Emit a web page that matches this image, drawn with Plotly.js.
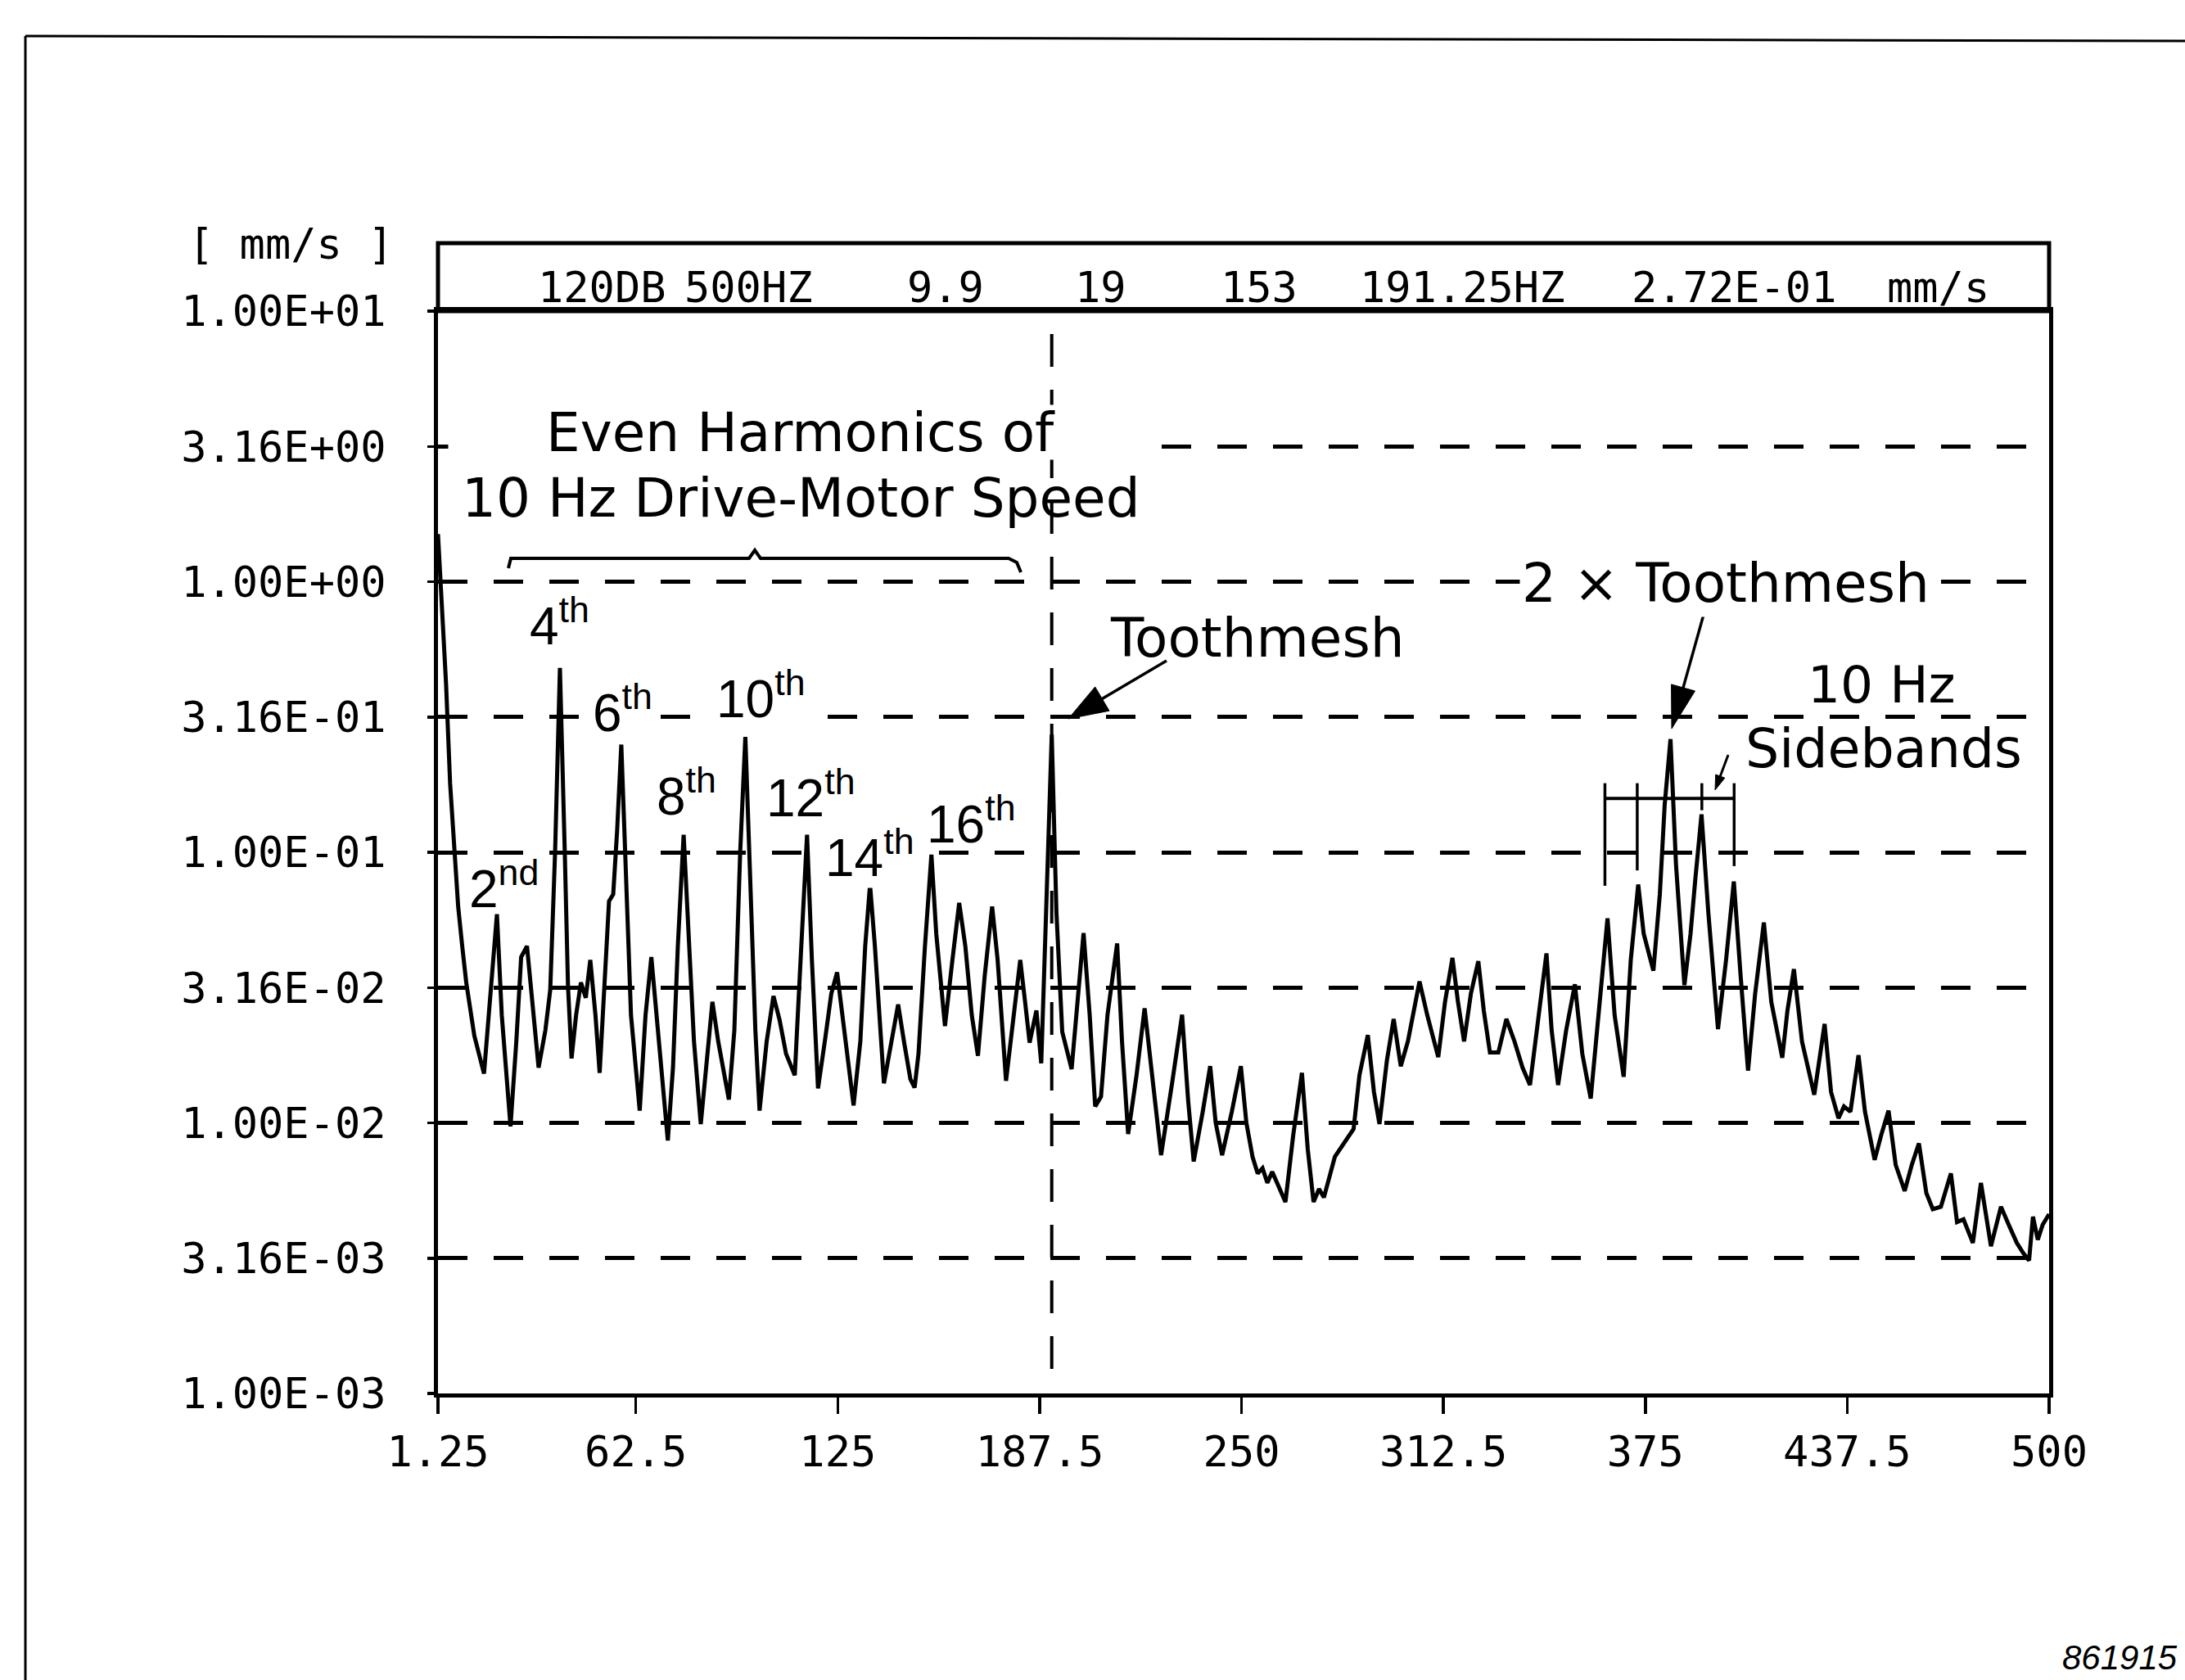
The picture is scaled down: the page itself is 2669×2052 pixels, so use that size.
<!DOCTYPE html>
<html><head><meta charset="utf-8">
<script src="https://cdn.plot.ly/plotly-3.0.1.min.js"></script>
<style>html,body{margin:0;padding:0;background:#fff;}#chart{width:2669px;height:2052px;}</style>
</head><body><div id="chart"></div>
<script>
// ---- data ----
const freqHz = [1.25,2.5,3.75,5,6.25,7.5,8.75,10,12.5,15.5,17.5,19.5,21,23.7,25.5,27,28.8,30.5,32.4,34.5,36,37.5,39,40.5,41.5,42.6,44,45.5,47,48.4,50,51.3,52.5,54.2,55.5,56.7,58,59.5,61,63.7,65.5,67.3,69,72.4,74,75.5,77.3,79,80.5,82.6,84.5,86.2,88,91.3,93,94.8,96.4,98,99.5,100.8,103,105.1,107,109,111.7,113.5,115.5,117,118.9,121,123,124.8,126.5,129.9,132,133.5,135,136.5,139.3,141.5,143.7,145.5,147.5,148.8,150,152,154,155.5,158.2,160.5,162.6,164.5,166.5,168.4,170.5,172.8,174.5,177.1,179.5,181.5,183,184.4,186.5,188,189.5,191.25,192.7,194.5,197.4,199.5,201.1,203,204.7,206.5,208.5,211.5,213,214.9,217.5,220,222.5,225.1,228.5,231.6,233.5,235.2,238,240.3,242,244,247,249.8,251.5,253.4,255,256.5,258,259.5,261,263.6,266,268.7,270.5,272.3,274,275.5,278.9,282,284.7,286.5,289.1,291,292.7,295,297.1,299.3,301.5,305.1,307.5,310.9,313,315.3,317,318.9,321,323.3,325,326.9,329.5,332,334.5,337,339.3,342,344.4,346,348,350.5,353.2,355.5,358.1,360.5,363.3,365.5,368.3,370.5,372.8,374.5,377.5,379.5,381,382.8,384.5,387.1,389,390.5,392.4,394.5,397.5,400,402.4,404.5,406.8,409,411.7,414,417.4,419,421,423.5,427.3,430.5,432.5,434.8,436.5,438.5,441,443,446,448,450.3,452.5,455.3,457.5,459.7,462,464,466.5,469.6,471.5,473.5,476.4,478.9,482,485.1,487.5,490,492,493.8,495,496.5,498,500];
const velocityMmS = [1.5,0.85,0.42,0.18,0.1,0.063,0.045,0.033,0.021,0.0152,0.03,0.059,0.025,0.0097,0.02,0.041,0.045,0.027,0.016,0.022,0.031,0.1,0.48,0.1,0.032,0.0173,0.025,0.033,0.029,0.04,0.025,0.0153,0.03,0.066,0.07,0.12,0.25,0.08,0.025,0.0111,0.025,0.041,0.024,0.0086,0.016,0.045,0.116,0.048,0.02,0.0099,0.018,0.028,0.02,0.0122,0.022,0.1,0.267,0.08,0.022,0.0111,0.02,0.0294,0.024,0.018,0.015,0.04,0.116,0.04,0.0134,0.02,0.03,0.036,0.025,0.0116,0.02,0.045,0.076,0.045,0.014,0.02,0.0274,0.02,0.0145,0.0135,0.018,0.045,0.098,0.05,0.0228,0.04,0.065,0.045,0.025,0.0177,0.035,0.063,0.04,0.0143,0.025,0.04,0.028,0.0198,0.026,0.0166,0.06,0.272,0.06,0.0217,0.0158,0.03,0.0503,0.025,0.0115,0.0125,0.025,0.046,0.02,0.0091,0.015,0.0265,0.014,0.0076,0.014,0.0251,0.012,0.0072,0.011,0.0162,0.01,0.0076,0.011,0.0162,0.01,0.0075,0.0065,0.0068,0.006,0.0066,0.006,0.0051,0.009,0.0153,0.008,0.0051,0.0057,0.0053,0.0075,0.0085,0.0095,0.015,0.0211,0.013,0.0099,0.017,0.0242,0.0162,0.02,0.0333,0.025,0.0175,0.028,0.0407,0.028,0.02,0.03,0.0396,0.026,0.0182,0.0182,0.0242,0.02,0.016,0.0138,0.025,0.0423,0.022,0.0138,0.022,0.0325,0.018,0.0123,0.025,0.057,0.025,0.0148,0.04,0.076,0.05,0.0365,0.07,0.15,0.262,0.09,0.0323,0.05,0.08,0.138,0.06,0.0222,0.04,0.078,0.035,0.0156,0.03,0.055,0.028,0.0174,0.026,0.037,0.02,0.0127,0.0232,0.013,0.0104,0.0115,0.011,0.0178,0.011,0.0073,0.009,0.0111,0.007,0.0056,0.007,0.0084,0.0055,0.0048,0.0049,0.0065,0.0043,0.0044,0.0036,0.006,0.0035,0.0049,0.0042,0.0036,0.0033,0.0031,0.0045,0.0037,0.0042,0.0046];
const xTickVals = [1.25,62.5,125,187.5,250,312.5,375,437.5,500];
const xTickText = ["1.25","62.5","125","187.5","250","312.5","375","437.5","500"];
const yTickVals = [10,3.16,1,0.316,0.1,0.0316,0.01,0.00316,0.001];
const yTickText = ["1.00E+01","3.16E+00","1.00E+00","3.16E-01","1.00E-01","3.16E-02","1.00E-02","3.16E-03","1.00E-03"];
const headerFields = ["120DB","500HZ","9.9","19","153","191.25HZ","2.72E-01","mm/s"];
const yUnitLabel = "[ mm/s ]";
const cursorHz = 191.25;
const sidebandHz = [362.5,372.5,392.5,402.5];
const harmonicLabels = ["2<sup>nd</sup>","4<sup>th</sup>","6<sup>th</sup>","8<sup>th</sup>","10<sup>th</sup>","12<sup>th</sup>","14<sup>th</sup>","16<sup>th</sup>"];
const figureId = "861915";

// ---- layout geometry (pixels of the 2669x2052 page) ----
const W=2669,H=2052,L=535,R=2503,T=380,B=1702;
const px = X => (X-L)/(R-L);
const py = Y => (B-Y)/(B-T);
const pt = (X,Y) => px(X).toFixed(5)+','+py(Y).toFixed(5);

const mono = "DejaVu Sans Mono, Liberation Mono, monospace";
const sans = "DejaVu Sans, Liberation Sans, Arial, sans-serif";
const sans2 = "Liberation Sans, Arial, sans-serif";

const headerX = [655,834,1106,1311,1489,1659,1991,2303];
const harmonicPos = [[615,1081],[683,760],[760,866],[838,968],[929,849],[990,970],[1062,1043],[1186,1002]];
const harmonicMask = [false,false,true,false,true,false,true,false];

const annotations = [];
headerFields.forEach((t,i)=>annotations.push({xref:'paper',yref:'paper',x:px(headerX[i]),y:py(351),xanchor:'left',yanchor:'middle',text:t,showarrow:false,font:{family:mono,size:52,color:'#000'}}));
annotations.push({xref:'paper',yref:'paper',x:px(482),y:py(298),xanchor:'right',yanchor:'middle',text:yUnitLabel,showarrow:false,font:{family:mono,size:52,color:'#000'}});
annotations.push({xref:'paper',yref:'paper',x:px(978),y:py(528),xanchor:'center',yanchor:'middle',text:'Even Harmonics of',showarrow:false,width:860,height:66,bgcolor:'#fff',borderpad:0,font:{family:sans,size:66,color:'#000'}});
annotations.push({xref:'paper',yref:'paper',x:px(978),y:py(608),xanchor:'center',yanchor:'middle',text:'10 Hz Drive-Motor Speed',showarrow:false,height:76,font:{family:sans,size:66,color:'#000'}});
annotations.push({xref:'paper',yref:'paper',x:px(1536),y:py(779),xanchor:'center',yanchor:'middle',text:'Toothmesh',showarrow:false,font:{family:sans,size:66,color:'#000'}});
annotations.push({xref:'paper',yref:'paper',x:px(2108),y:py(712),xanchor:'center',yanchor:'middle',text:'2 \u00d7 Toothmesh',showarrow:false,bgcolor:'#fff',borderpad:2,font:{family:sans,size:66,color:'#000'}});
annotations.push({xref:'paper',yref:'paper',x:px(2298),y:py(836),xanchor:'center',yanchor:'middle',text:'10 Hz',showarrow:false,height:60,font:{family:sans,size:63,color:'#000'}});
annotations.push({xref:'paper',yref:'paper',x:px(2301),y:py(914),xanchor:'center',yanchor:'middle',text:'Sidebands',showarrow:false,height:60,font:{family:sans,size:65,color:'#000'}});
harmonicLabels.forEach((t,i)=>annotations.push({xref:'paper',yref:'paper',x:px(harmonicPos[i][0]),y:py(harmonicPos[i][1]),xanchor:'center',yanchor:'middle',text:t,showarrow:false,bgcolor:harmonicMask[i]?'#fff':'rgba(0,0,0,0)',borderpad:0,font:{family:sans2,size:64,color:'#000'}}));
annotations.push({xref:'paper',yref:'paper',x:px(2662),y:py(2050),xanchor:'right',yanchor:'bottom',text:'<i>'+figureId+'</i>',showarrow:false,font:{family:sans2,size:42,color:'#000'}});

// arrows drawn as shapes (shaft + filled head), pixel geometry
function arrowShapes(tx,ty,sx,sy,headLen,headW,w){
  const dx=tx-sx, dy=ty-sy, len=Math.hypot(dx,dy), ux=dx/len, uy=dy/len;
  const bx=tx-ux*headLen, by=ty-uy*headLen, nx=-uy, ny=ux;
  return [
    {type:'line',xref:'paper',yref:'paper',x0:px(sx),y0:py(sy),x1:px(bx+ux*2),y1:py(by+uy*2),line:{color:'#000',width:w}},
    {type:'path',xref:'paper',yref:'paper',path:'M'+pt(tx,ty)+' L'+pt(bx+nx*headW/2,by+ny*headW/2)+' L'+pt(bx-nx*headW/2,by-ny*headW/2)+' Z',fillcolor:'#000',line:{color:'#000',width:1}}
  ];
}

const sbTop = 0.18, sbBottoms = [0.0752,0.0857,0.143,0.0889];
const shapes = [
  {type:'rect',xref:'paper',yref:'paper',x0:0,x1:1,y0:1,y1:py(297),line:{color:'#000',width:5}},
  {type:'line',xref:'x',yref:'paper',x0:cursorHz,x1:cursorHz,y0:py(1672),y1:1,line:{color:'#000',width:4,dash:'40px,28px'}},
  {type:'path',xref:'paper',yref:'paper',path:'M'+pt(621,694)+' L'+pt(624,682)+' L'+pt(915,682)+' L'+pt(922,672)+' L'+pt(929,682)+' L'+pt(1232,682)+' L'+pt(1242,687)+' L'+pt(1247,699),line:{color:'#000',width:4}},
  {type:'line',xref:'x',yref:'y',x0:sidebandHz[0],x1:sidebandHz[3],y0:0.158,y1:0.158,line:{color:'#000',width:4}},
  {type:'line',xref:'paper',yref:'paper',x0:px(31),x1:px(2669),y0:py(44),y1:py(50),line:{color:'#000',width:3}},
  {type:'line',xref:'paper',yref:'paper',x0:px(31),x1:px(31),y0:py(44),y1:py(2052),line:{color:'#000',width:3}}
];
sidebandHz.forEach((f,i)=>shapes.push({type:'line',xref:'x',yref:'y',x0:f,x1:f,y0:sbTop,y1:sbBottoms[i],line:{color:'#000',width:3.5}}));
shapes.push(...arrowShapes(1305,878,1425,807,48,34,3.5));
shapes.push(...arrowShapes(2042,890,2084,740,52,30,3.5));
shapes.push(...arrowShapes(2095,965,2111,922,18,12,3));

const trace = {x:freqHz,y:velocityMmS,type:'scatter',mode:'lines',line:{color:'#000',width:5},hoverinfo:'skip',showlegend:false};

const layout = {
  width:W,height:H,autosize:false,
  margin:{l:L,r:W-R,t:T,b:H-B,pad:0},
  paper_bgcolor:'#fff',plot_bgcolor:'#fff',
  showlegend:false,
  xaxis:{range:[1.25,500],tickmode:'array',tickvals:xTickVals,ticktext:xTickText,ticks:'outside',ticklen:20,tickwidth:3.5,tickcolor:'#000',
    showline:true,linewidth:5,linecolor:'#000',mirror:true,showgrid:false,zeroline:false,ticklabelstandoff:2,
    tickfont:{family:mono,size:52,color:'#000'}},
  yaxis:{type:'log',range:[-3,1],tickmode:'array',tickvals:yTickVals,ticktext:yTickText,ticks:'outside',ticklen:8,tickwidth:3.5,tickcolor:'#000',
    showline:true,linewidth:5,linecolor:'#000',mirror:true,showgrid:true,gridcolor:'#000',gridwidth:5,griddash:'36px,32px',zeroline:false,
    ticklabelstandoff:40,tickfont:{family:mono,size:52,color:'#000'}},
  annotations:annotations,
  shapes:shapes
};
Plotly.newPlot('chart',[trace],layout,{staticPlot:true,displayModeBar:false});
</script></body></html>
